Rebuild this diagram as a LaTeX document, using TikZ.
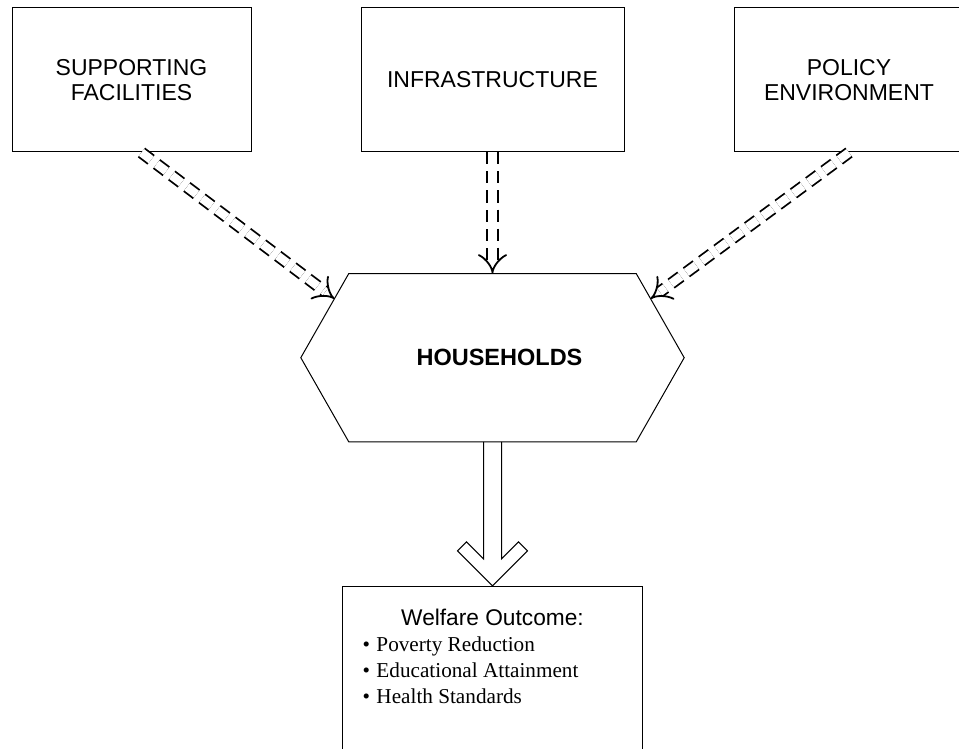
\documentclass[tikz,border=0pt]{standalone}
\usepackage{fontspec}
\setmainfont{Liberation Sans}
\newfontfamily\serifface{Liberation Serif}
\usetikzlibrary{positioning, arrows.meta, calc}

\begin{document}
\begin{tikzpicture}[x=1pt, y=-1pt,
      box/.style={draw, line width=1pt, minimum height=144pt, align=center,
                  inner sep=0pt, font=\fontsize{23}{25.5}\selectfont},
      hexlabel/.style={minimum width=383pt, minimum height=168pt, inner sep=0pt,
                  font=\fontsize{23.5}{28}\selectfont\bfseries},
      hexline/.style={line width=1pt},
      outbox/.style={draw, line width=1pt, inner sep=10pt},
      dblarrow/.style={line width=1.8pt, double, double distance=8.5pt,
                  dash pattern=on 12pt off 7pt, -{Implies}},
      fatarrow/.style={line width=1pt, line join=miter}]
    \useasboundingbox (0,0) rectangle (959,749);
    \clip (0,0) rectangle (959,749);
    % factors
    \node[box, minimum width=239pt] (sf) at (131.5,80) {SUPPORTING\\FACILITIES};
    \node[box, minimum width=263pt, right=109pt of sf] (infra) {INFRASTRUCTURE};
    \node[box, minimum width=230pt, right=109pt of infra] (pe) {POLICY\\ENVIRONMENT};
    % households
    \node[hexlabel, below=121pt of infra] (hh) {\hspace*{14pt}HOUSEHOLDS};
    \coordinate (hnw) at ([xshift=48pt]hh.north west);
    \coordinate (hne) at ([xshift=-48pt]hh.north east);
    \coordinate (hse) at ([xshift=-48pt]hh.south east);
    \coordinate (hsw) at ([xshift=48pt]hh.south west);
    \draw[hexline] (hh.west) -- (hnw) -- (hne) -- (hh.east) -- (hse) -- (hsw) -- cycle;
    % outcome
    \node[outbox, below=144pt of hh] (out) {\parbox[t][170pt][t]{280pt}{%
      \vspace*{13pt}\centering\fontsize{22.7}{26}\selectfont Welfare Outcome:\par
      \raggedright\serifface\fontsize{21.2}{26}\selectfont
      \hspace*{10pt}\makebox[14pt][l]{\textbullet}Poverty Reduction\\
      \hspace*{10pt}\makebox[14pt][l]{\textbullet}Educational Attainment\\
      \hspace*{10pt}\makebox[14pt][l]{\textbullet}Health Standards\par}};
    % arrows
    \draw[dblarrow] ([xshift=10pt]sf.south) -- ($(hh.west)!0.7!(hnw)$);
    \draw[dblarrow] (infra.south) -- (hh.north);
    \draw[dblarrow] (pe.south) -- ($(hh.east)!0.7!(hne)$);
    \coordinate (fa) at ($(hsw)!0.5!(hse)$);
    \draw[fatarrow] ([xshift=-9pt]fa) -- ++(0,117) -- ++(-17,-17) -- ++(-9,9)
      -- (out.north) -- ++(35,-35) -- ++(-9,-9) -- ++(-17,17) -- ++(0,-117);
\end{tikzpicture}
\end{document}
